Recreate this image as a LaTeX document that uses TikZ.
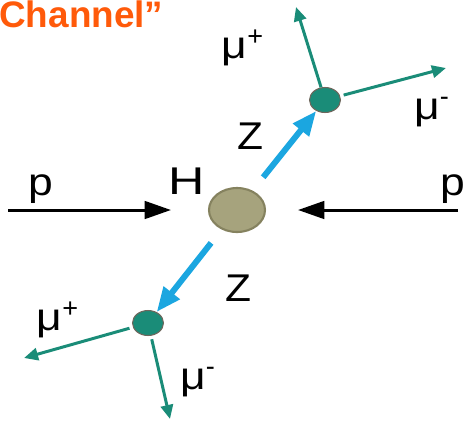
\documentclass[tikz,border=0pt]{standalone}
\usepackage{fontspec}
\setmainfont{Liberation Sans}
\usetikzlibrary{arrows.meta,shapes.geometric}
\definecolor{chanorange}{HTML}{FF5A0A}
\definecolor{zblue}{HTML}{1BA6E0}
\definecolor{muteal}{HTML}{1A8C78}
\definecolor{hfill}{HTML}{A6A37D}
\definecolor{hedge}{HTML}{85825F}
\definecolor{vedge}{HTML}{6E665C}
\newcommand\widelbl[2][1.15]{\scalebox{#1}[1]{#2}}

\begin{document}
\begin{tikzpicture}[x=0.02cm,y=-0.02cm,
 lbl/.style={font=\fontsize{22}{26}\selectfont,inner sep=0pt},
 vtx/.style={ellipse,draw=vedge,fill=muteal,line width=.6pt,inner sep=0pt,minimum width=.62cm,minimum height=.5cm},
 zarrow/.style={draw=zblue,line width=3.4pt,-{Triangle[length=14pt,width=11pt]}},
 muarrow/.style={draw=muteal,line width=1.7pt,-{Triangle[length=8pt,width=7pt]}},
 parrow/.style={line width=1.7pt,-{Triangle[length=15pt,width=10pt]}}]
\useasboundingbox (0,0) rectangle (466,420);
\node[anchor=base west,text=chanorange,font=\fontsize{21}{25}\selectfont\bfseries,inner sep=0pt] (title) at (-1,27) {Channel”};
% Higgs and the two Z decay points
\node[ellipse,draw=hedge,fill=hfill,line width=1.2pt,inner sep=0pt,minimum width=1.12cm,minimum height=.88cm] (H) at (237,210) {};
\node[vtx] (vu) at (325,100) {};
\node[vtx] (vl) at (148,323) {};
% incoming protons
\coordinate (pl0) at (8,210);
\coordinate (pl1) at (171,210);
\coordinate (pr0) at (458,210);
\coordinate (pr1) at (298,210);
\draw[parrow] (pl0) -- (pl1);
\draw[parrow] (pr0) -- (pr1);
\node[lbl] (plab) at (41,189) {\widelbl{p}};
\node[lbl] (prab) at (453,189) {\widelbl{p}};
\node[lbl] (Hlab) at (187,181) {\widelbl[1.3]{H}};
% Z bosons
\draw[zarrow,shorten <=.34cm] (H) -- (vu);
\draw[zarrow,shorten <=.34cm] (H) -- (vl);
\node[lbl] (zu) at (250,136) {\widelbl[1.1]{Z}};
\node[lbl] (zl) at (238,288) {\widelbl[1.1]{Z}};
% muons
\coordinate (m1) at (296,7);
\coordinate (m2) at (446,68);
\coordinate (m3) at (24,358);
\coordinate (m4) at (170,419);
\draw[muarrow] (vu) -- (m1);
\draw[muarrow,shorten <=2pt] (vu) -- (m2);
\draw[muarrow,shorten <=2pt] (vl) -- (m3);
\draw[muarrow,shorten <=2pt] (vl) -- (m4);
\node[lbl] (mu1) at (243,48) {\widelbl{μ}\textsuperscript{+}};
\node[lbl] (mu2) at (432,112) {\widelbl{μ}\textsuperscript{-}};
\node[lbl] (mu3) at (58,320) {\widelbl{μ}\textsuperscript{+}};
\node[lbl] (mu4) at (198,382) {\widelbl{μ}\textsuperscript{-}};
\end{tikzpicture}
\end{document}
